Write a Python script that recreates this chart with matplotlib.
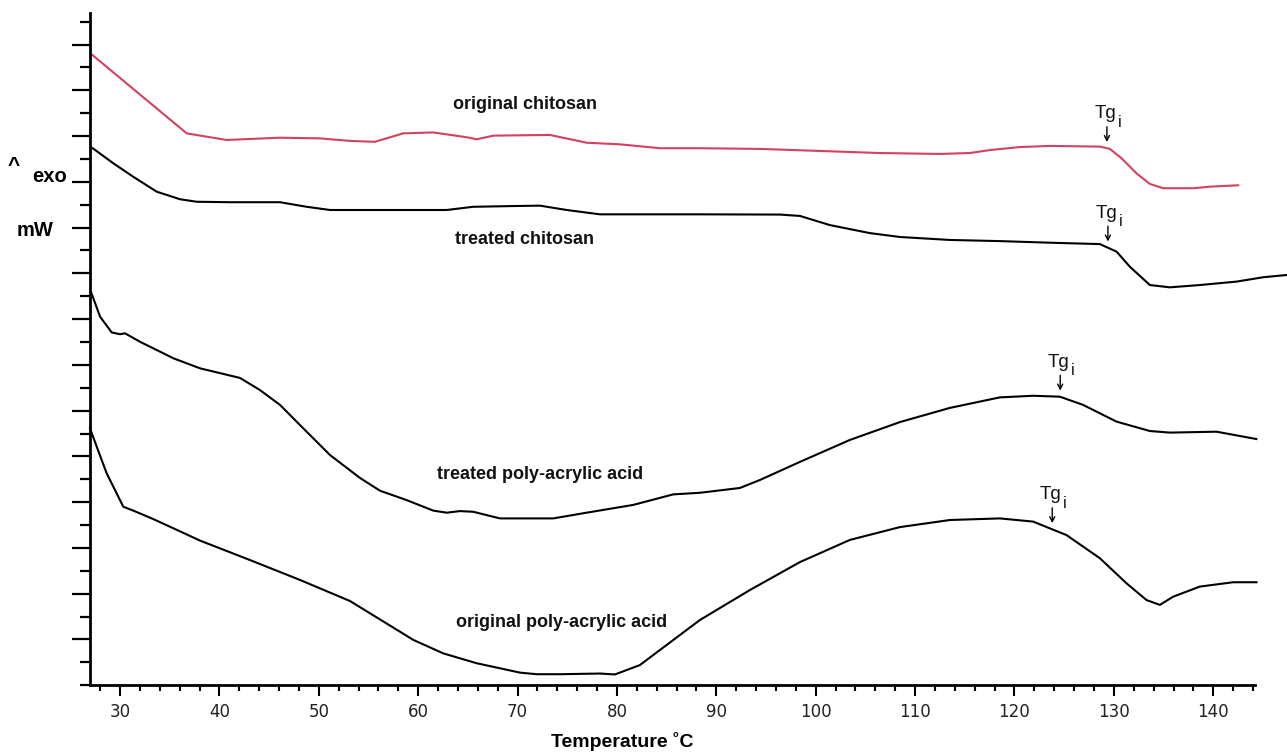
import numpy as np
import matplotlib
matplotlib.use("Agg")
import matplotlib.pyplot as plt
from matplotlib.ticker import FixedLocator

# ---------------- data ----------------
# Temperature (deg C) and heat-flow signal (arbitrary mW units, one unit = one y tick)
orig_chitosan_T = [27.15, 36.71, 40.73, 46.10, 50.12, 53.14, 55.65, 58.50, 61.52, 64.88,
                   65.89, 67.56, 73.26, 76.95, 80.30, 84.33, 88.35, 94.39, 100.42, 106.46,
                   112.49, 115.51, 117.53, 120.54, 123.56, 128.59, 129.60, 130.77, 132.28,
                   133.62, 134.96, 137.98, 139.66, 142.51]
orig_chitosan_y = [27.57, 24.12, 23.83, 23.93, 23.90, 23.79, 23.75, 24.12, 24.16, 23.95,
                   23.86, 24.02, 24.05, 23.71, 23.64, 23.47, 23.47, 23.44, 23.35, 23.26,
                   23.22, 23.26, 23.39, 23.52, 23.57, 23.54, 23.44, 23.03, 22.37,
                   21.91, 21.72, 21.72, 21.79, 21.85]

treat_chitosan_T = [27.25, 29.33, 31.34, 33.69, 36.04, 37.72, 41.07, 46.10, 48.78, 51.13,
                    62.87, 65.54, 69.24, 72.25, 74.94, 78.29, 88.35, 96.40, 98.41, 101.43,
                    105.45, 108.47, 113.50, 118.53, 123.56, 128.59, 130.27, 131.61, 133.62,
                    135.63, 138.65, 142.34, 145.02, 147.40]
treat_chitosan_y = [23.47, 22.81, 22.22, 21.57, 21.24, 21.13, 21.11, 21.11, 20.91, 20.77,
                    20.77, 20.91, 20.94, 20.96, 20.77, 20.58, 20.58, 20.57, 20.51, 20.11,
                    19.76, 19.59, 19.46, 19.41, 19.34, 19.28, 18.95, 18.29, 17.49,
                    17.39, 17.49, 17.64, 17.83, 17.93]

treat_paa_T = [27.08, 27.99, 29.16, 30.00, 30.50, 32.01, 34.02, 35.36, 38.05, 42.07,
               44.08, 46.10, 48.11, 51.13, 54.14, 56.16, 58.84, 61.52, 62.87, 64.21,
               65.54, 68.23, 73.59, 76.95, 81.64, 85.66, 88.35, 92.37, 94.39, 98.41,
               103.44, 108.47, 113.50, 118.53, 121.88, 124.57, 126.91, 130.27, 133.62,
               135.63, 140.33, 144.33]
treat_paa_y = [17.19, 16.11, 15.42, 15.34, 15.38, 15.01, 14.58, 14.29, 13.85, 13.43,
               12.90, 12.25, 11.37, 10.06, 9.06, 8.50, 8.09, 7.63, 7.54, 7.61,
               7.58, 7.29, 7.29, 7.54, 7.88, 8.34, 8.41, 8.62, 8.97, 9.76,
               10.72, 11.50, 12.12, 12.58, 12.65, 12.61, 12.25, 11.52, 11.11,
               11.04, 11.08, 10.76]

orig_paa_T = [26.98, 27.66, 28.66, 30.33, 31.34, 33.35, 35.36, 38.05, 43.08, 48.11,
              53.14, 59.51, 62.53, 65.89, 70.24, 71.92, 74.27, 78.29, 79.80, 82.31,
              84.33, 88.35, 93.38, 98.41, 103.44, 108.47, 113.50, 118.53, 121.88,
              125.24, 128.59, 131.28, 133.29, 134.63, 135.97, 138.65, 142.00, 144.35]
orig_paa_y = [11.23, 10.42, 9.26, 7.80, 7.63, 7.26, 6.86, 6.32, 5.47, 4.60,
              3.68, 1.98, 1.39, 0.96, 0.55, 0.48, 0.48, 0.51, 0.47, 0.88,
              1.54, 2.85, 4.16, 5.38, 6.35, 6.91, 7.22, 7.29, 7.15,
              6.56, 5.55, 4.45, 3.72, 3.51, 3.87, 4.31, 4.50, 4.50]

series_names = ["original chitosan", "treated chitosan",
                "treated poly-acrylic acid", "original poly-acrylic acid"]
tg_onset = [129.3, 129.4, 124.6, 123.8]          # Tg_i arrow temperatures
x_major = [30, 40, 50, 60, 70, 80, 90, 100, 110, 120, 130, 140]
x_minor = [28, 32, 34, 36, 38, 42, 44, 46, 48, 52, 54, 56, 58, 62, 64, 66, 68,
           72, 74, 76, 78, 82, 84, 86, 88, 92, 94, 96, 98, 102, 104, 106, 108,
           112, 114, 116, 118, 122, 124, 126, 128, 132, 134, 136, 138, 142, 144]

# ---------------- figure ----------------
W, H = 1287, 754
fig = plt.figure(figsize=(W / 100, H / 100), dpi=100)
fig.patch.set_facecolor("white")
ax = fig.add_axes([90 / W, (H - 685.2) / H, (1255 - 90) / W, (685.2 - 13) / H])

RED = "#d4405e"
curves = [(orig_chitosan_T, orig_chitosan_y, RED),
          (treat_chitosan_T, treat_chitosan_y, "black"),
          (treat_paa_T, treat_paa_y, "black"),
          (orig_paa_T, orig_paa_y, "black")]
for T, y, c in curves:
    ax.plot(T, y, color=c, lw=1.5, clip_on=False, solid_joinstyle="round")

ax.set_xlim(26.98, 144.2)
ax.set_ylim(0, 29.38)

for s in ["top", "right"]:
    ax.spines[s].set_visible(False)
for s in ["left", "bottom"]:
    ax.spines[s].set_linewidth(2.0)
    ax.spines[s].set_color("black")

ax.xaxis.set_major_locator(FixedLocator(x_major))
ax.xaxis.set_minor_locator(FixedLocator(x_minor))
ax.set_xticklabels([str(v) for v in x_major])
ax.yaxis.set_major_locator(FixedLocator(list(range(2, 29, 2))))
ax.yaxis.set_minor_locator(FixedLocator([0] + list(range(1, 30, 2))))

ax.tick_params(axis="x", which="major", direction="out", length=8, width=1.5,
               pad=5, labelsize=12, labelcolor="#222222")
ax.tick_params(axis="x", which="minor", direction="out", length=4.3, width=1.5)
ax.tick_params(axis="y", which="major", direction="out", length=13, width=1.6,
               labelleft=False)
ax.tick_params(axis="y", which="minor", direction="out", length=7.2, width=1.6)
for lab in ax.get_xticklabels():
    lab.set_family("DejaVu Sans")

# curve labels
label_font = dict(family="Liberation Sans", fontweight="bold", fontsize=13,
                  ha="center", va="center", color="#111111")
label_pos = [(70.74, 25.36), (70.74, 19.50), (72.25, 9.19), (74.47, 2.72)]
for name, (lx, ly) in zip(series_names, label_pos):
    ax.text(lx, ly, name, **label_font)

# Tg_i markers
for (T, y, c), tg in zip(curves, tg_onset):
    yc = float(np.interp(tg, T, y))
    ax.annotate("", xy=(tg, yc), xycoords="data",
                xytext=(0, 15.5), textcoords="offset points",
                arrowprops=dict(arrowstyle="->,head_length=0.35,head_width=0.18",
                                lw=1.0, color="black", shrinkA=0, shrinkB=4.5),
                annotation_clip=False)
    ax.annotate("Tg", xy=(tg, yc), xycoords="data",
                xytext=(-1.2, 21.5), textcoords="offset points",
                ha="center", va="baseline", fontsize=13.5,
                family="Liberation Sans", color="#111111", annotation_clip=False)
    ax.annotate("i", xy=(tg, yc), xycoords="data",
                xytext=(8.0, 15.5), textcoords="offset points",
                ha="left", va="baseline", fontsize=11.5,
                family="Liberation Sans", color="#111111", annotation_clip=False)

# y axis label pieces
fig.text(14 / W, 1 - 166 / H, "^", family="Liberation Sans", fontweight="bold",
         fontsize=15, ha="center", va="center")
fig.text(50 / W, 1 - 176 / H, "exo", family="Liberation Sans", fontweight="bold",
         fontsize=14.5, ha="center", va="center")
fig.text(35 / W, 1 - 231 / H, "mW", family="Liberation Sans", fontweight="bold",
         fontsize=14.5, ha="center", va="center")

# x axis label
fig.text(622 / W, 1 - 747 / H, "Temperature \u02daC", family="Liberation Sans",
         fontweight="bold", fontsize=14, ha="center", va="baseline")

fig.savefig("out.png", dpi=100, facecolor="white")
